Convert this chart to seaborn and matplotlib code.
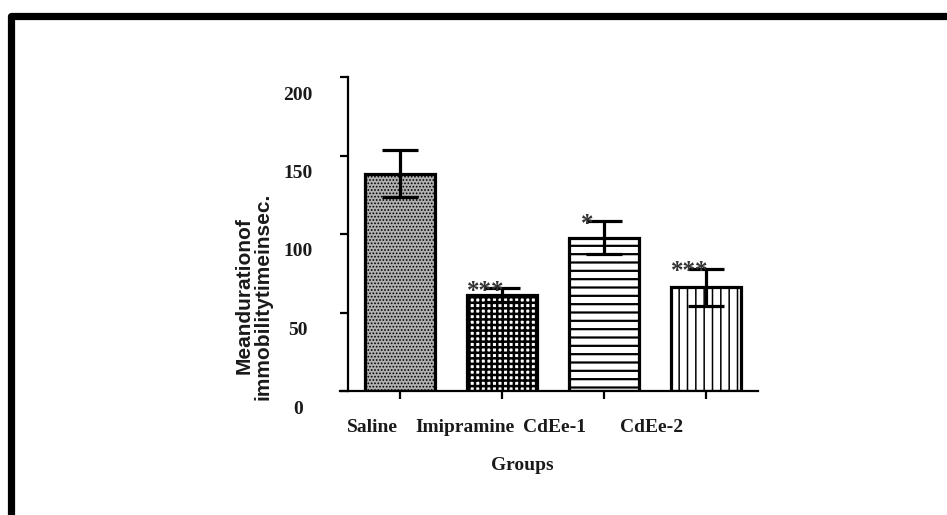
import matplotlib
matplotlib.use("Agg")
import matplotlib.pyplot as plt
import matplotlib.transforms as mtransforms
from matplotlib.lines import Line2D
import pandas as pd
import seaborn as sns

# Forced swim test: mean duration of immobility (s) with SEM
groups = ["Saline", "Imipramine", "CdEe-1", "CdEe-2"]
mean_immobility = [138.5, 61.0, 97.5, 66.0]
sem_immobility = [15.0, 4.5, 10.5, 12.0]
significance = ["", "***", "*", "***"]
y_ticks = [0, 50, 100, 150, 200]

# fill pattern per group: (face colour, hatch, hatch line width)
patterns = [("#b0b0b0", ".....", 0.8),
            ("white", "+++", 1.8),
            ("white", "--", 1.6),
            ("white", "||", 1.1)]

sns.set_theme(style="white")
plt.rcParams["font.family"] = ["Liberation Serif", "DejaVu Serif"]

W, H = 947, 515
fig = plt.figure(figsize=(W / 100, H / 100), dpi=100)
fig.patch.set_facecolor("white")

ax = fig.add_axes([340 / W, 1 - 391 / H, 418 / W, 314 / H])
df = pd.DataFrame({"group": groups, "mean": mean_immobility})
sns.barplot(data=df, x="group", y="mean", order=groups, width=0.69,
            color="white", edgecolor="black", linewidth=2.3,
            errorbar=None, ax=ax)

for patch, (fc, hatch, hlw) in zip(ax.patches, patterns):
    patch.set_facecolor(fc)
    patch.set_hatch(hatch)
    if hasattr(patch, "set_hatch_linewidth"):
        patch.set_hatch_linewidth(hlw)

xpos = list(range(len(groups)))
ax.errorbar(xpos, mean_immobility, yerr=sem_immobility, fmt="none",
            ecolor="black", elinewidth=2.3, capsize=13, capthick=2.3,
            zorder=5)

for x, m, s, txt in zip(xpos, mean_immobility, sem_immobility, significance):
    if txt:
        ax.text(x - 0.16, m + s - 2, txt, ha="center", va="center",
                fontsize=18, fontweight="bold", color="#333333", zorder=6)

ax.set_xlim(-0.588, 3.51)
ax.set_ylim(0, 200)
ax.set_yticks(y_ticks)
ax.set_yticklabels([str(t) for t in y_ticks])
ax.set_xlabel("")
ax.set_ylabel("")

for side in ("top", "right"):
    ax.spines[side].set_visible(False)
ax.spines["left"].set_position(("data", -0.51))
for side in ("left", "bottom"):
    ax.spines[side].set_color("black")
    ax.spines[side].set_linewidth(1.6)

ax.tick_params(axis="both", direction="out", length=6, width=1.6,
               color="black", bottom=True, left=True)
ax.tick_params(axis="x", pad=14, labelsize=14)
ax.tick_params(axis="y", pad=30, labelsize=14)

# tick labels: bold serif, shifted as laid out on the figure
x_shift = [-28, -37, -49, -54]
for lab, dx in zip(ax.get_xticklabels(), x_shift):
    lab.set_fontweight("bold")
    lab.set_color("#1a1a1a")
    lab.set_transform(lab.get_transform() +
                      mtransforms.ScaledTranslation(dx / 100, 0, fig.dpi_scale_trans))
for lab in ax.get_yticklabels():
    lab.set_fontweight("bold")
    lab.set_color("#1a1a1a")
    lab.set_horizontalalignment("center")
    lab.set_transform(lab.get_transform() +
                      mtransforms.ScaledTranslation(0, -16 / 100, fig.dpi_scale_trans))

fig.text(522 / W, 1 - 465 / H, "Groups", ha="center", va="center",
         fontsize=14, fontweight="bold", color="#1a1a1a")
fig.text(254 / W, 1 - 296 / H, "Meandurationof\nimmobilitytimeinsec.",
         rotation=90, ha="center", va="center", multialignment="center",
         fontsize=15, fontweight="bold", color="#1a1a1a", linespacing=1.0,
         family=["Liberation Sans", "DejaVu Sans"])

# frame around the panel (left and top edges)
frame = fig.add_axes([0, 0, 1, 1], facecolor="none")
frame.set_xlim(0, W)
frame.set_ylim(H, 0)
frame.axis("off")
frame.add_line(Line2D([10.5, 10.5, W + 5], [H + 5, 15.5, 15.5],
                      color="black", linewidth=5.2,
                      solid_joinstyle="round"))

fig.savefig("out.png", dpi=100, facecolor="white")
